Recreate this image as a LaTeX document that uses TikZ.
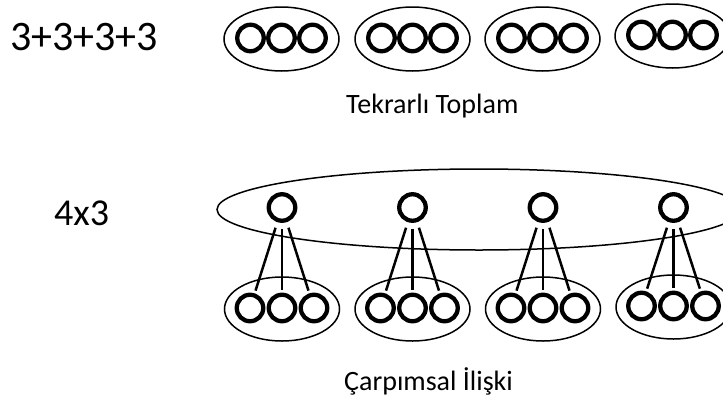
\documentclass[tikz,border=0pt]{standalone}
\usepackage{fontspec}
\setmainfont{Carlito}
\usetikzlibrary{shapes.geometric}
\begin{document}
\begin{tikzpicture}[x=1pt,y=-1pt,
  ring/.style={circle,draw,line width=4.3pt,minimum size=26.5pt,inner sep=0pt,outer sep=0pt},
  bag/.style={ellipse,draw,line width=1.5pt,inner sep=0pt,outer sep=0pt,
    minimum width=115pt,minimum height=64pt},
  bigbag/.style={ellipse,draw,line width=1.5pt,inner sep=0pt,outer sep=0pt,
    minimum width=524pt,minimum height=81pt},
  link/.style={draw,line width=2.5pt,shorten <=8pt,shorten >=5pt},
  lbl/.style={anchor=base west,inner sep=0pt}]
\useasboundingbox (0,0) rectangle (723,399);

% repeated addition: four bags of three
\foreach \i/\cx/\cy in {1/281.5/39,2/412.5/39,3/542.5/39,4/672.5/36}{
  \node[bag] (s\i) at (\cx,\cy) {};
  \node[ring] (s\i a) at (\cx-31,\cy-1) {};
  \node[ring] (s\i b) at (\cx,\cy-1) {};
  \node[ring] (s\i c) at (\cx+31,\cy-1) {};
}

% multiplicative relation: one bag of four, each joined to a bag of three
\node[bigbag] (all) at (479,209.5) {};
\foreach \i/\cx/\cy in {1/282/309,2/412.5/309,3/543/309,4/673.5/307}{
  \node[ring] (t\i) at (\cx,207.5) {};
  \node[bag] (m\i) at (\cx,\cy) {};
  \node[ring] (m\i a) at (\cx-32,\cy-1) {};
  \node[ring] (m\i b) at (\cx,\cy-1) {};
  \node[ring] (m\i c) at (\cx+32,\cy-1) {};
  \draw[link] (t\i) -- (m\i a);
  \draw[link] (t\i) -- (m\i b);
  \draw[link] (t\i) -- (m\i c);
}

% labels
\node[lbl,font=\fontsize{42}{42}\selectfont] (sum) at (10,50) {3+3+3+3};
\node[lbl,font=\fontsize{38}{38}\selectfont] (prod) at (54,225) {4x3};
\node[lbl,font=\fontsize{28}{28}\selectfont] (sumlbl) at (346,113) {Tekrarlı Toplam};
\node[lbl,font=\fontsize{28}{28}\selectfont] (prodlbl) at (344,390) {Çarpımsal İlişki};
\end{tikzpicture}
\end{document}
